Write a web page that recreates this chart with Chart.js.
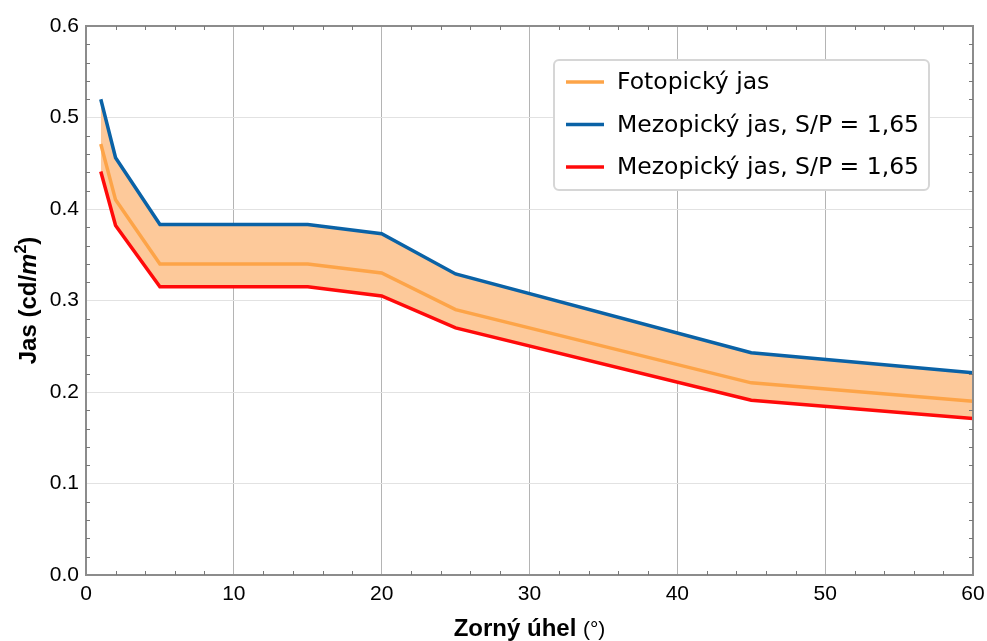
<!DOCTYPE html>
<html>
<head>
<meta charset="utf-8">
<script src="https://cdn.jsdelivr.net/npm/chart.js@4"></script>
<style>
    html, body { margin: 0; padding: 0; background: #fff; }
    #wrap { width: 987px; height: 641px; }
</style>
</head>
<body>
<div id="wrap"><canvas id="grafico"></canvas></div>
<script>
// Datos
const uhel = [1, 2, 5, 15, 20, 25, 45, 60];
const fotopicky = [0.471, 0.410, 0.340, 0.340, 0.330, 0.290, 0.210, 0.190];
const mezopickyHorni = [0.520, 0.456, 0.383, 0.383, 0.373, 0.329, 0.243, 0.221];
const mezopickyDolni = [0.441, 0.382, 0.315, 0.315, 0.305, 0.270, 0.191, 0.171];
const nazvy = ["Fotopický jas", "Mezopický jas, S/P = 1,65", "Mezopický jas, S/P = 1,65"];

const puntos = (valores) => valores.map((v, i) => ({ x: uhel[i], y: v }));

// ticks menores, marco, titulos de ejes y leyenda
const extras = {
    id: "extras",
    afterDraw(chart) {
        const ctx = chart.ctx;
        const a = chart.chartArea;
        const sx = chart.scales.x;
        const sy = chart.scales.y;
        ctx.save();

        // marco
        ctx.strokeStyle = "#8c8c8c";
        ctx.lineWidth = 2;
        ctx.beginPath();
        ctx.moveTo(a.left, a.top);
        ctx.lineTo(a.right, a.top);
        ctx.lineTo(a.right, a.bottom);
        ctx.stroke();

        // ticks menores
        ctx.strokeStyle = "#777";
        ctx.lineWidth = 1;
        ctx.beginPath();
        for (let v = 2; v < 60; v += 2) {
            if (v % 10 === 0) continue;
            const px = Math.round(sx.getPixelForValue(v)) + 0.5;
            ctx.moveTo(px, a.bottom); ctx.lineTo(px, a.bottom - 4);
            ctx.moveTo(px, a.top); ctx.lineTo(px, a.top + 4);
        }
        for (let k = 1; k < 30; k++) {
            if (k % 5 === 0) continue;
            const py = Math.round(sy.getPixelForValue(k * 0.02)) + 0.5;
            ctx.moveTo(a.left, py); ctx.lineTo(a.left + 4, py);
            ctx.moveTo(a.right, py); ctx.lineTo(a.right - 4, py);
        }
        ctx.stroke();

        // titulo eje x
        ctx.fillStyle = "#000";
        ctx.textBaseline = "alphabetic";
        const t1 = "Zorný úhel ";
        const t2 = "(°)";
        const fb = "bold 24px 'Liberation Sans', Arial, sans-serif";
        const fn = "21px 'Liberation Sans', Arial, sans-serif";
        ctx.font = fb;
        const w1 = ctx.measureText(t1).width;
        ctx.font = fn;
        const w2 = ctx.measureText(t2).width;
        let x0 = (a.left + a.right) / 2 - (w1 + w2) / 2;
        ctx.font = fb;
        ctx.textAlign = "left";
        ctx.fillText(t1, x0, 636);
        ctx.font = fn;
        ctx.fillText(t2, x0 + w1, 636);

        // titulo eje y
        ctx.translate(36, (a.top + a.bottom) / 2);
        ctx.rotate(-Math.PI / 2);
        const p1 = "Jas (cd/";
        const p2 = "m";
        const p3 = "2";
        const p4 = ")";
        const f1 = "bold 24px 'Liberation Sans', Arial, sans-serif";
        const f2 = "bold italic 24px 'Liberation Sans', Arial, sans-serif";
        const f3 = "bold 16px 'Liberation Sans', Arial, sans-serif";
        ctx.font = f1;
        const q1 = ctx.measureText(p1).width;
        const q4 = ctx.measureText(p4).width;
        ctx.font = f2;
        const q2 = ctx.measureText(p2).width;
        ctx.font = f3;
        const q3 = ctx.measureText(p3).width;
        let y0 = -(q1 + q2 + q3 + q4) / 2;
        ctx.font = f1;
        ctx.fillText(p1, y0, 0);
        ctx.font = f2;
        ctx.fillText(p2, y0 + q1, 0);
        ctx.font = f3;
        ctx.fillText(p3, y0 + q1 + q2, -10);
        ctx.font = f1;
        ctx.fillText(p4, y0 + q1 + q2 + q3, 0);
        ctx.restore();

        // leyenda
        ctx.save();
        const lx = 554, ly = 60, lw = 375, lh = 130;
        ctx.fillStyle = "#fff";
        ctx.strokeStyle = "#d6d6d6";
        ctx.lineWidth = 2;
        ctx.beginPath();
        ctx.roundRect(lx, ly, lw, lh, 5);
        ctx.fill();
        ctx.stroke();
        ctx.font = "23.5px 'DejaVu Sans', Verdana, sans-serif";
        ctx.textBaseline = "middle";
        ctx.textAlign = "left";
        chart.data.datasets.forEach((ds, i) => {
            const cy = 82 + i * 42.5;
            ctx.strokeStyle = ds.borderColor;
            ctx.lineWidth = 3.5;
            ctx.beginPath();
            ctx.moveTo(566, cy);
            ctx.lineTo(604, cy);
            ctx.stroke();
            ctx.fillStyle = "#000";
            ctx.fillText(ds.label, 617, cy + 1);
        });
        ctx.restore();
    }
};

new Chart(document.getElementById("grafico"), {
    type: "line",
    data: {
        datasets: [
            {
                label: nazvy[0],
                data: puntos(fotopicky),
                borderColor: "#fda448",
                borderWidth: 3.5,
                pointRadius: 0,
                fill: false
            },
            {
                label: nazvy[1],
                data: puntos(mezopickyHorni),
                borderColor: "#0a62a6",
                borderWidth: 3.5,
                pointRadius: 0,
                fill: { target: 2 },
                backgroundColor: "#fdc99a"
            },
            {
                label: nazvy[2],
                data: puntos(mezopickyDolni),
                borderColor: "#ff0a0a",
                borderWidth: 3.5,
                pointRadius: 0,
                fill: false
            }
        ]
    },
    options: {
        responsive: true,
        maintainAspectRatio: false,
        animation: false,
        layout: { padding: { top: 26, right: 14, left: 0, bottom: 0 } },
        plugins: {
            legend: { display: false },
            tooltip: { enabled: false },
            filler: { drawTime: "beforeDatasetsDraw" }
        },
        scales: {
            x: {
                type: "linear",
                min: 0,
                max: 60,
                ticks: {
                    stepSize: 10,
                    padding: 7,
                    color: "#000",
                    font: { family: "'Liberation Sans', Arial, sans-serif", size: 21 }
                },
                grid: { color: "#b4b4b4", drawTicks: false },
                border: { color: "#8c8c8c", width: 2 },
                afterFit: (scale) => {
                    scale.height = 66;
                    scale.paddingLeft = 0;
                    scale.paddingRight = 0;
                }
            },
            y: {
                min: 0,
                max: 0.6,
                ticks: {
                    stepSize: 0.1,
                    padding: 7,
                    color: "#000",
                    font: { family: "'Liberation Sans', Arial, sans-serif", size: 21 },
                    callback: (v) => v.toFixed(1)
                },
                grid: { color: "#e2e2e2", drawTicks: false },
                border: { color: "#8c8c8c", width: 2 },
                afterFit: (scale) => {
                    scale.width = 86;
                    scale.paddingTop = 0;
                    scale.paddingBottom = 0;
                }
            }
        }
    },
    plugins: [extras]
});
</script>
</body>
</html>
